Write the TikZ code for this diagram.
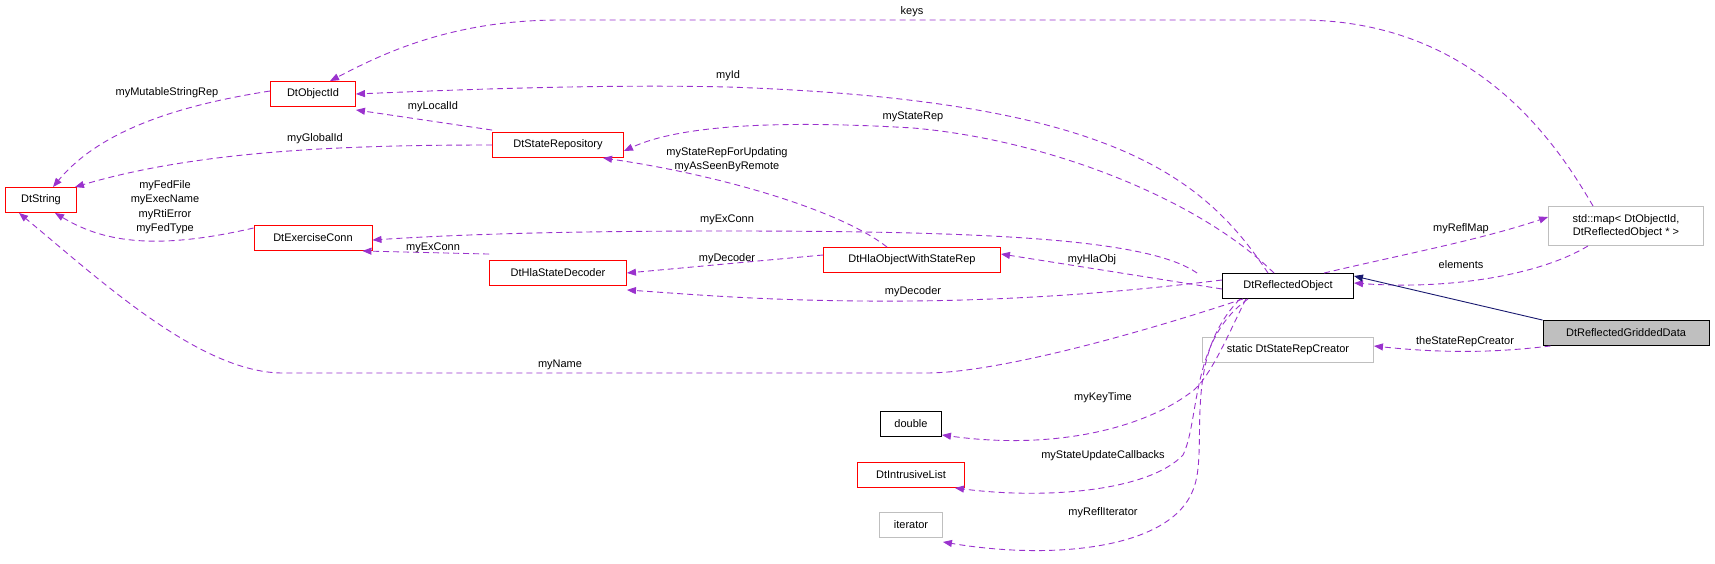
\documentclass[tikz,border=0pt]{standalone}
\usepackage{fontspec}
\setmainfont{Liberation Sans}
\usetikzlibrary{arrows.meta}
\definecolor{purp}{HTML}{9A32CD}
\definecolor{navy}{HTML}{191970}
\definecolor{boxred}{HTML}{FF0000}
\definecolor{boxgray}{HTML}{BFBFBF}
\begin{document}
\begin{tikzpicture}[x=1pt,y=-1pt,
  font=\fontsize{11}{13}\selectfont,
  box/.style={draw=boxred,line width=0.9pt,minimum height=25pt,inner xsep=4pt,inner ysep=2pt,fill=white},
  gbox/.style={box,draw=boxgray},
  bbox/.style={box,draw=black},
  rel/.style={draw=purp,line width=0.9pt,dash pattern=on 6pt off 4pt,-{Triangle[length=9pt,width=7pt]}},
  inh/.style={draw=navy,line width=0.9pt,-{Triangle[length=9pt,width=7pt]}},
  lab/.style={inner sep=0pt,align=center,font=\fontsize{11}{14}\selectfont}]
\useasboundingbox (0,0) rectangle (1715,563);
\node[box,minimum width=71pt] (str) at (41,200) {DtString};
\node[box,minimum width=85pt] (oid) at (313,94) {DtObjectId};
\node[box,minimum width=131pt] (srep) at (558,145) {DtStateRepository};
\node[box,minimum width=118pt] (exc) at (313,238) {DtExerciseConn};
\node[box,minimum width=137pt] (dec) at (558,273) {DtHlaStateDecoder};
\node[box,minimum width=177pt] (hla) at (912,260) {DtHlaObjectWithStateRep};
\node[bbox,minimum width=131pt] (ro) at (1288,286) {DtReflectedObject};
\node[gbox,minimum width=155pt,minimum height=39pt,align=center,font=\fontsize{11}{13.5}\selectfont] (map) at (1626,226) {std::map< DtObjectId,\\ DtReflectedObject * >};
\node[bbox,fill=boxgray,minimum width=166pt] (grid) at (1626,333) {DtReflectedGriddedData};
\node[gbox,minimum width=171pt] (src) at (1288,350) {static DtStateRepCreator};
\node[bbox,minimum width=61pt] (dbl) at (911,424) {double};
\node[box,minimum width=107pt] (ilist) at (911,475) {DtIntrusiveList};
\node[gbox,minimum width=63pt] (iter) at (911,525) {iterator};

% keys
\draw[rel] (map.north west)++(45,0) .. controls (1560,150) and (1480,20) .. (1300,20) -- (560,20) .. controls (450,20) and (380,55) .. ([xshift=17pt]oid.north);
\node[lab] at (912,12) {keys};
% myId
\draw[rel] ([xshift=-20pt]ro.north) .. controls (1200,170) and (1100,100) .. (728,87) .. controls (600,84) and (450,90) .. (oid.east);
\node[lab] at (728,76) {myId};
% myStateRep
\draw[rel] ([xshift=-14pt]ro.north) .. controls (1200,200) and (1050,140) .. (913,128) .. controls (780,120) and (680,125) .. ([yshift=-6pt]srep.east);
\node[lab] at (913,117) {myStateRep};
% myStateRepForUpdating
\draw[rel] ([xshift=-25pt]hla.north) .. controls (840,210) and (720,175) .. ([xshift=45pt]srep.south);
\node[lab] at (727,160) {myStateRepForUpdating\\myAsSeenByRemote};
% myExConn upper
\draw[rel] ([xshift=-25pt]ro.north west) .. controls (1150,240) and (1000,231) .. (727,231) .. controls (550,231) and (450,235) .. ([yshift=-2pt]exc.east);
\node[lab] at (727,220) {myExConn};
% myExConn lower
\draw[rel] ([yshift=6pt]dec.north west) -- ([xshift=-10pt]exc.south east);
\node[lab] at (433,248) {myExConn};
% myDecoder upper
\draw[rel] ([yshift=5pt]hla.west) -- (dec.east);
\node[lab] at (727,259) {myDecoder};
% myDecoder lower
\draw[rel] ([yshift=6pt]ro.west) .. controls (1100,295) and (1000,300) .. (913,301) .. controls (780,302) and (700,295) .. ([yshift=-4pt]dec.south east);
\node[lab] at (913,292) {myDecoder};
% myHlaObj
\draw[rel] ([yshift=-3pt]ro.west) -- ([yshift=6pt]hla.east);
\node[lab] at (1092,260) {myHlaObj};
% myName
\draw[rel] ([xshift=-45pt]ro.south) .. controls (1150,330) and (1000,373) .. (926,373) -- (283,373) .. controls (200,373) and (100,280) .. ([xshift=14pt]str.south west);
\node[lab] at (560,365) {myName};
% myRefIMap
\draw[rel] ([xshift=-30pt]ro.north east) .. controls (1400,255) and (1480,240) .. ([yshift=9pt]map.west);
\node[lab] at (1461,229) {myReflMap};
% elements
\draw[rel] ([xshift=-38pt]map.south) .. controls (1540,275) and (1450,290) .. ([yshift=3pt]ro.east);
\node[lab] at (1461,265) {elements};
% inheritance
\draw[inh] (grid.north west) -- ([yshift=10pt]ro.east);
% theStateRepCreator
\draw[rel] ([xshift=8pt]grid.south west) .. controls (1500,352) and (1450,354) .. ([yshift=4pt]src.east);
\node[lab] at (1465,342) {theStateRepCreator};
% myKeyTime
\draw[rel] ([xshift=-42pt]ro.south) .. controls (1230,330) and (1210,380) .. (1190,393) .. controls (1140,430) and (1050,450) .. ([yshift=2pt]dbl.south east);
\node[lab] at (1103,398) {myKeyTime};
% myStateUpdateCallbacks
\draw[rel] ([xshift=-40pt]ro.south) .. controls (1190,340) and (1200,420) .. (1183,455) .. controls (1150,490) and (1050,500) .. ([xshift=-10pt]ilist.south east);
\node[lab] at (1103,456) {myStateUpdateCallbacks};
% myRefIterator
\draw[rel] ([xshift=-48pt]ro.south) .. controls (1180,360) and (1210,450) .. (1193,490) .. controls (1170,550) and (1050,560) .. ([yshift=-4pt]iter.south east);
\node[lab] at (1103,513) {myReflIterator};
% myMutableStringRep
\draw[rel] ([yshift=3pt]oid.west) .. controls (180,105) and (100,130) .. ([xshift=12pt]str.north);
\node[lab] at (167,93) {myMutableStringRep};
% myLocalId
\draw[rel] ([yshift=2pt]srep.north west) -- ([yshift=-3pt]oid.south east);
\node[lab] at (433,107) {myLocalId};
% myGlobalId
\draw[rel] (srep.west) .. controls (350,145) and (200,150) .. ([xshift=-2pt]str.north east);
\node[lab] at (315,139) {myGlobalId};
% myFedFile ...
\draw[rel] ([yshift=10pt]exc.west) .. controls (150,252) and (100,240) .. ([xshift=14pt]str.south);
\node[lab,font=\fontsize{11}{14.5}\selectfont] at (165,207) {myFedFile\\myExecName\\myRtiError\\myFedType};
\end{tikzpicture}
\end{document}
